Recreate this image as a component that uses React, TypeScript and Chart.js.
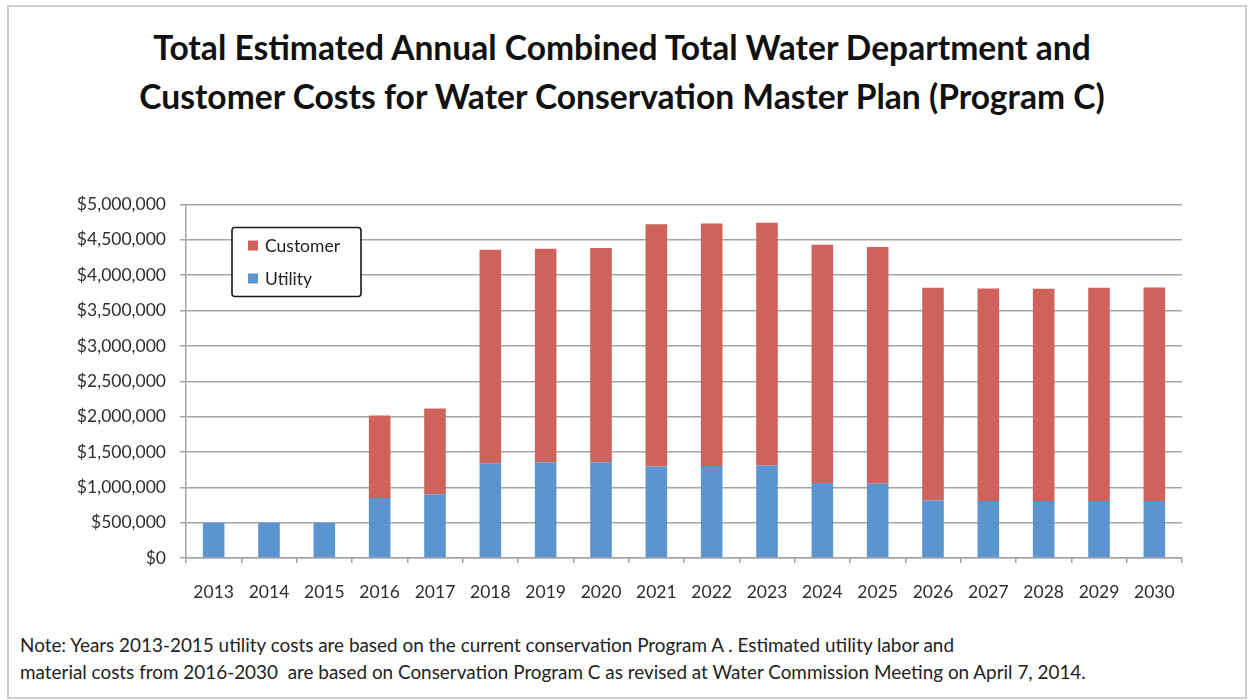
import React, { useEffect, useRef } from "react";
import { Chart, registerables } from "chart.js";

Chart.register(...registerables);

// Fiscal years shown on the category axis
const years: string[] = [
  "2013", "2014", "2015", "2016", "2017", "2018", "2019", "2020", "2021",
  "2022", "2023", "2024", "2025", "2026", "2027", "2028", "2029", "2030",
];

// Water Department (utility) costs, dollars per year
const utilityCosts: number[] = [
  500000, 500000, 500000, 850000, 900000, 1340000, 1355000, 1355000, 1295000,
  1300000, 1310000, 1060000, 1050000, 815000, 805000, 805000, 805000, 805000,
];

// Customer costs, dollars per year (stacked above utility)
const customerCosts: number[] = [
  0, 0, 0, 1165000, 1215000, 3020000, 3020000, 3030000, 3425000,
  3430000, 3432000, 3372000, 3350000, 3007000, 3007000, 3005000, 3017000, 3020000,
];

// Value axis settings
const yMax = 5000000;
const yStep = 500000;

const titleLines: string[] = [
  "Total Estimated Annual Combined Total Water Department and",
  "Customer Costs for Water Conservation Master Plan (Program C)",
];

const noteLines: string[] = [
  "Note: Years 2013-2015 utility costs are based on the current conservation Program A . Estimated utility labor and",
  "material costs from 2016-2030  are based on Conservation Program C as revised at Water Commission Meeting on April 7, 2014.",
];

const UTILITY_COLOR = "#5b95cf";
const CUSTOMER_COLOR = "#cf625a";
const GRID_COLOR = "#a5a5a5";
const TEXT_COLOR = "#2e2e2e";
const FONT = "Lato";

// Boxed legend drawn inside the upper-left of the plot area
const insetLegend = {
  id: "insetLegend",
  afterDraw(chart: any) {
    const { ctx, chartArea } = chart;
    const x = chartArea.left + 46;
    const y = chartArea.top + 23;
    const w = 129;
    const h = 69;
    ctx.save();
    ctx.fillStyle = "#ffffff";
    ctx.strokeStyle = "#1a1a1a";
    ctx.lineWidth = 1.6;
    ctx.beginPath();
    const r = 3;
    ctx.moveTo(x + r, y);
    ctx.lineTo(x + w - r, y);
    ctx.quadraticCurveTo(x + w, y, x + w, y + r);
    ctx.lineTo(x + w, y + h - r);
    ctx.quadraticCurveTo(x + w, y + h, x + w - r, y + h);
    ctx.lineTo(x + r, y + h);
    ctx.quadraticCurveTo(x, y + h, x, y + h - r);
    ctx.lineTo(x, y + r);
    ctx.quadraticCurveTo(x, y, x + r, y);
    ctx.closePath();
    ctx.fill();
    ctx.stroke();

    // Customer listed first, Utility second (reverse of stacking order)
    const items = [...chart.data.datasets].reverse();
    items.forEach((ds: any, i: number) => {
      const cy = y + 18 + i * 33;
      ctx.fillStyle = ds.backgroundColor;
      ctx.fillRect(x + 16, cy - 5, 10, 10);
      ctx.fillStyle = "#222222";
      ctx.font = `17.5px ${FONT}`;
      ctx.textBaseline = "middle";
      ctx.textAlign = "left";
      ctx.fillText(ds.label, x + 33, cy + 1);
    });
    ctx.restore();
  },
};

function CostChart() {
  const ref = useRef<HTMLCanvasElement | null>(null);

  useEffect(() => {
    if (!ref.current) return;
    const chart = new Chart(ref.current, {
      type: "bar",
      data: {
        labels: years,
        datasets: [
          {
            label: "Utility",
            data: utilityCosts,
            backgroundColor: UTILITY_COLOR,
            barPercentage: 0.39,
            categoryPercentage: 1,
          },
          {
            label: "Customer",
            data: customerCosts,
            backgroundColor: CUSTOMER_COLOR,
            barPercentage: 0.39,
            categoryPercentage: 1,
          },
        ],
      },
      options: {
        animation: false,
        responsive: false,
        maintainAspectRatio: false,
        layout: { padding: { top: 23, right: 66, left: 0, bottom: 0 } },
        plugins: {
          legend: { display: false },
          title: { display: false },
          tooltip: { enabled: false },
        },
        scales: {
          x: {
            stacked: true,
            offset: true,
            grid: {
              offset: true,
              drawOnChartArea: false,
              drawTicks: true,
              tickLength: 5,
              color: GRID_COLOR,
              lineWidth: 1.5,
            },
            border: { display: true, color: GRID_COLOR, width: 1.5 },
            ticks: {
              color: TEXT_COLOR,
              font: { family: FONT, size: 17.5 },
              padding: 19,
              maxRotation: 0,
              autoSkip: false,
            },
            afterFit(scale: any) {
              scale.height = 62;
            },
          },
          y: {
            stacked: true,
            min: 0,
            max: yMax,
            grid: {
              color: GRID_COLOR,
              lineWidth: 1.5,
              tickLength: 6,
              drawTicks: true,
            },
            border: { display: true, color: GRID_COLOR, width: 1.5 },
            ticks: {
              stepSize: yStep,
              color: TEXT_COLOR,
              font: { family: FONT, size: 17.5 },
              padding: 14,
              callback: (v: any) => "$" + Number(v).toLocaleString("en-US"),
            },
            afterFit(scale: any) {
              scale.width = 186;
            },
          },
        },
      },
      plugins: [insetLegend],
    });
    return () => chart.destroy();
  }, []);

  return (
    <canvas
      ref={ref}
      width={1248}
      height={440}
      style={{ position: "absolute", left: 0, top: 180, width: 1248, height: 440 }}
    />
  );
}

export default function App() {
  return (
    <div
      style={{
        position: "absolute",
        left: 0,
        top: 0,
        width: 1248,
        height: 700,
        background: "#ffffff",
        overflow: "hidden",
        fontFamily: FONT,
      }}
    >
      <div
        style={{
          position: "absolute",
          left: 7,
          top: 5,
          width: 1236,
          height: 690,
          border: "2px solid #cfcfcf",
        }}
      />
      <div
        style={{
          position: "absolute",
          left: 0,
          top: 23,
          width: 1244,
          textAlign: "center",
          fontWeight: 700,
          fontSize: 33.6,
          lineHeight: "49px",
          color: "#111111",
        }}
      >
        {titleLines.map((t) => (
          <div key={t}>{t}</div>
        ))}
      </div>
      <CostChart />
      <div
        style={{
          position: "absolute",
          left: 20,
          top: 631,
          fontSize: 18.9,
          lineHeight: "27px",
          color: "#222222",
          whiteSpace: "pre",
        }}
      >
        {noteLines.map((t) => (
          <div key={t}>{t}</div>
        ))}
      </div>
    </div>
  );
}
